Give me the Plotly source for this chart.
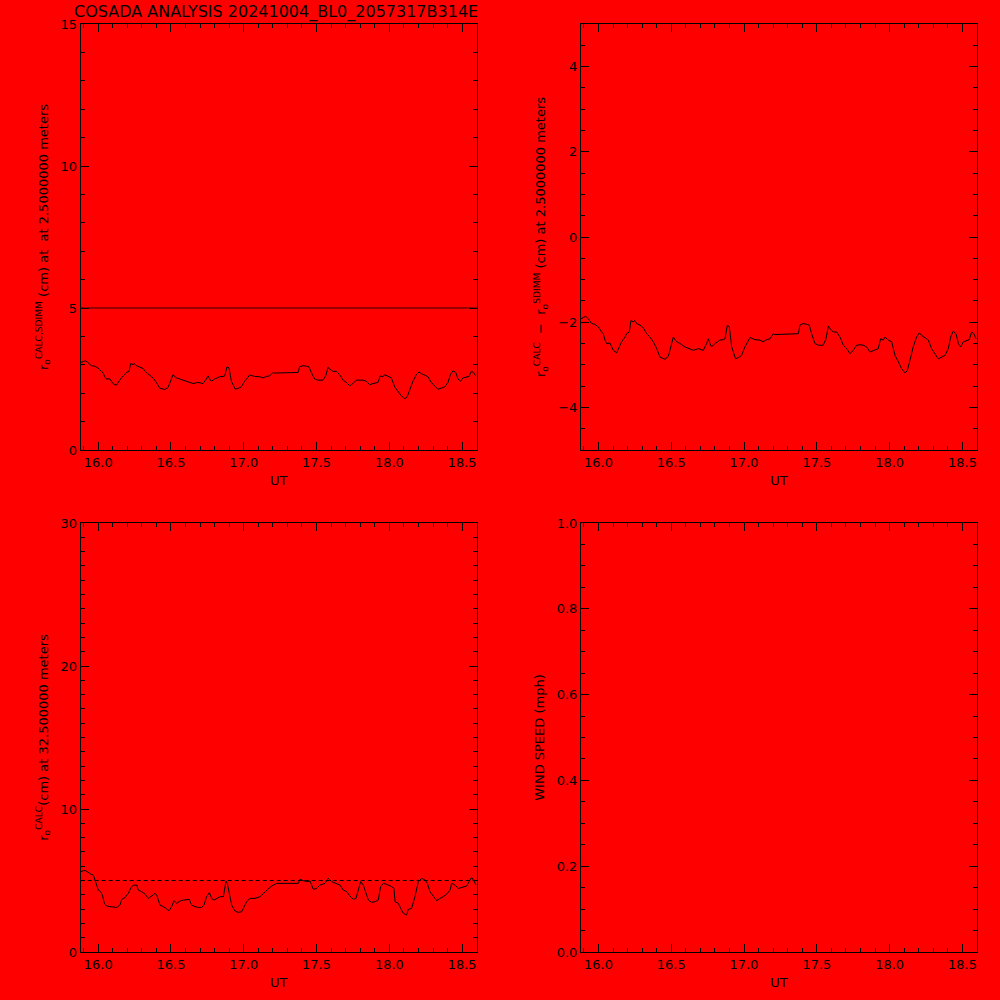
import plotly.graph_objects as go

# ---------------- data ----------------
title_text = "COSADA ANALYSIS 20241004_BL0_2057317B314E"

# r0 CALC at 2.5 m (cm) vs UT
ut_2p5 = [15.880, 15.896, 15.912, 15.930, 15.942, 15.953, 15.976, 15.999, 16.022, 16.033,
          16.045, 16.056, 16.079, 16.091, 16.102, 16.125, 16.148, 16.159, 16.182, 16.194,
          16.212, 16.223, 16.239, 16.251, 16.262, 16.285, 16.308, 16.331, 16.354, 16.377,
          16.400, 16.423, 16.457, 16.480, 16.491, 16.514, 16.537, 16.560, 16.594, 16.629,
          16.652, 16.686, 16.720, 16.743, 16.755, 16.766, 16.777, 16.800, 16.835, 16.858,
          16.869, 16.885, 16.899, 16.915, 16.926, 16.942, 16.961, 16.983, 17.006, 17.041,
          17.075, 17.109, 17.132, 17.155, 17.178, 17.201, 17.212, 17.373, 17.384, 17.407,
          17.430, 17.448, 17.464, 17.487, 17.510, 17.544, 17.563, 17.579, 17.590, 17.613,
          17.636, 17.659, 17.682, 17.705, 17.728, 17.750, 17.773, 17.796, 17.819, 17.842,
          17.865, 17.888, 17.922, 17.938, 17.956, 17.968, 17.991, 18.014, 18.037, 18.060,
          18.082, 18.105, 18.121, 18.140, 18.162, 18.185, 18.204, 18.220, 18.243, 18.266,
          18.288, 18.311, 18.334, 18.357, 18.380, 18.403, 18.419, 18.437, 18.456, 18.472,
          18.488, 18.506, 18.529, 18.547, 18.563, 18.579, 18.593]
r0_calc_2p5 = [3.08, 3.12, 3.14, 3.08, 3.01, 2.97, 2.95, 2.89, 2.77, 2.73,
               2.58, 2.50, 2.51, 2.42, 2.34, 2.28, 2.46, 2.54, 2.65, 2.73,
               2.77, 3.04, 3.01, 3.04, 2.97, 2.93, 2.87, 2.73, 2.65, 2.54,
               2.38, 2.18, 2.13, 2.20, 2.34, 2.65, 2.54, 2.50, 2.42, 2.38,
               2.34, 2.38, 2.34, 2.50, 2.61, 2.50, 2.42, 2.50, 2.58, 2.59,
               2.61, 2.93, 2.89, 2.42, 2.30, 2.14, 2.17, 2.22, 2.42, 2.64,
               2.59, 2.58, 2.54, 2.59, 2.61, 2.73, 2.71, 2.73, 2.93, 2.97,
               2.95, 2.93, 2.73, 2.50, 2.46, 2.46, 2.61, 2.91, 2.85, 2.77,
               2.77, 2.65, 2.46, 2.38, 2.26, 2.34, 2.46, 2.47, 2.46, 2.42,
               2.30, 2.34, 2.38, 2.61, 2.58, 2.65, 2.58, 2.54, 2.22, 2.07,
               1.91, 1.81, 1.86, 2.11, 2.42, 2.65, 2.75, 2.69, 2.64, 2.58,
               2.38, 2.26, 2.14, 2.18, 2.22, 2.38, 2.65, 2.79, 2.73, 2.50,
               2.42, 2.54, 2.56, 2.59, 2.77, 2.73, 2.61]

# r0 SDIMM reference (cm)
r0_sdimm = 5.0

# r0 CALC at 32.5 m (cm) vs UT
ut_32p5 = [15.882, 15.898, 15.914, 15.933, 15.949, 15.967, 15.978, 15.990, 16.001, 16.017,
           16.029, 16.043, 16.059, 16.081, 16.104, 16.127, 16.150, 16.162, 16.184, 16.207,
           16.226, 16.242, 16.265, 16.276, 16.299, 16.322, 16.345, 16.368, 16.391, 16.402,
           16.413, 16.425, 16.448, 16.471, 16.487, 16.505, 16.521, 16.539, 16.562, 16.585,
           16.608, 16.626, 16.642, 16.665, 16.688, 16.711, 16.727, 16.745, 16.764, 16.780,
           16.796, 16.814, 16.837, 16.860, 16.878, 16.887, 16.901, 16.917, 16.940, 16.963,
           16.986, 17.002, 17.020, 17.043, 17.077, 17.112, 17.135, 17.157, 17.180, 17.203,
           17.226, 17.375, 17.386, 17.409, 17.432, 17.455, 17.478, 17.501, 17.524, 17.558,
           17.581, 17.604, 17.638, 17.661, 17.684, 17.707, 17.730, 17.753, 17.771, 17.787,
           17.803, 17.821, 17.840, 17.856, 17.879, 17.902, 17.924, 17.940, 17.959, 17.982,
           18.016, 18.032, 18.039, 18.062, 18.078, 18.096, 18.119, 18.130, 18.153, 18.176,
           18.199, 18.222, 18.245, 18.261, 18.279, 18.302, 18.325, 18.348, 18.371, 18.394,
           18.417, 18.428, 18.451, 18.474, 18.497, 18.531, 18.554, 18.565, 18.581, 18.595]
r0_calc_32p5 = [5.62, 5.69, 5.69, 5.55, 5.45, 5.38, 5.03, 4.68, 4.33, 4.22,
                3.98, 3.40, 3.21, 3.17, 3.12, 3.12, 3.28, 3.68, 3.80, 4.10,
                4.50, 4.68, 4.68, 4.33, 4.22, 4.05, 3.75, 3.91, 4.10, 3.98,
                3.63, 3.28, 3.17, 2.98, 2.89, 3.17, 3.59, 3.40, 3.56, 3.63,
                3.68, 3.68, 3.28, 3.17, 3.12, 3.12, 3.28, 3.87, 4.15, 3.75,
                3.63, 3.75, 3.87, 3.87, 4.96, 4.80, 4.10, 3.28, 2.86, 2.77,
                2.82, 3.17, 3.52, 3.75, 3.75, 3.87, 4.10, 4.33, 4.52, 4.68,
                4.80, 4.80, 5.08, 4.99, 4.92, 4.96, 4.38, 4.45, 4.68, 4.80,
                5.15, 4.92, 4.80, 4.68, 4.33, 4.22, 3.91, 3.68, 3.75, 4.33,
                4.92, 4.68, 4.10, 3.63, 3.47, 3.52, 3.63, 4.57, 4.80, 4.73,
                4.57, 4.45, 3.52, 3.40, 3.05, 2.70, 2.59, 2.98, 3.05, 3.87,
                4.92, 5.15, 5.03, 4.80, 4.22, 3.87, 3.59, 3.75, 3.87, 4.05,
                4.33, 4.80, 4.68, 4.45, 4.50, 4.61, 5.03, 5.22, 4.99, 4.68]

r0_diff_2p5 = [c - r0_sdimm for c in r0_calc_2p5]

x_range = [15.88, 18.60]
x_tick_labels = ["16.0", "16.5", "17.0", "17.5", "18.0", "18.5"]
x_tick_vals = [16.0, 16.5, 17.0, 17.5, 18.0, 18.5]

ytitle_tl = "r<sub>o</sub><sup>CALC,SDIMM</sup> (cm) at  at 2.5000000 meters"
ytitle_tr = "r<sub>o</sub><sup>CALC</sup>  \u2212  r<sub>o</sub><sup>SDIMM</sup> (cm) at 2.5000000 meters"
ytitle_bl = "r<sub>o</sub><sup>CALC</sup>(cm) at 32.500000 meters"
ytitle_br = "WIND SPEED (mph)"

# ---------------- figure ----------------
FONT = "DejaVu Sans"
BG = "#ff0000"

fig = go.Figure()

fig.add_trace(go.Scatter(x=ut_2p5, y=r0_calc_2p5, mode="lines",
                         line=dict(color="black", width=1), xaxis="x", yaxis="y",
                         showlegend=False))
fig.add_trace(go.Scatter(x=ut_2p5, y=r0_diff_2p5, mode="lines",
                         line=dict(color="black", width=1), xaxis="x2", yaxis="y2",
                         showlegend=False))
fig.add_trace(go.Scatter(x=ut_32p5, y=r0_calc_32p5, mode="lines",
                         line=dict(color="black", width=1), xaxis="x3", yaxis="y3",
                         showlegend=False))
fig.add_trace(go.Scatter(x=[], y=[], mode="lines", xaxis="x4", yaxis="y4",
                         showlegend=False))

# reference lines
fig.add_shape(type="line", xref="x domain", x0=0, x1=1, yref="y", y0=r0_sdimm, y1=r0_sdimm,
              line=dict(color="#300000", width=1))
fig.add_shape(type="line", xref="x3 domain", x0=0, x1=1, yref="y3", y0=r0_sdimm, y1=r0_sdimm,
              line=dict(color="black", width=1, dash="4px,3px"))

left_dom = [0.0807, 0.4767]
right_dom = [0.581, 0.977]
top_dom = [0.550, 0.976]
bot_dom = [0.048, 0.477]


def xax(domain, anchor):
    return dict(domain=domain, anchor=anchor, range=x_range, automargin=False,
                tickmode="array", tickvals=x_tick_vals, ticktext=x_tick_labels,
                ticks="inside", ticklen=8, tickwidth=1, tickcolor="black",
                minor=dict(dtick=0.1, tick0=16.0, ticks="inside", ticklen=4,
                           tickcolor="black", tickwidth=1),
                showline=True, linecolor="black", linewidth=1, mirror="allticks",
                showgrid=False, zeroline=False,
                tickfont=dict(family=FONT, size=13, color="black"),
                title=dict(text="UT", font=dict(family=FONT, size=13, color="black"),
                           standoff=7))


def yax(domain, anchor, rng, dtick, minor, title, fmt=None, standoff=9):
    d = dict(domain=domain, anchor=anchor, range=rng, dtick=dtick, tick0=0,
             automargin=False,
             ticks="inside", ticklen=8, tickwidth=1, tickcolor="black",
             minor=dict(dtick=minor, tick0=0, ticks="inside", ticklen=4,
                        tickcolor="black", tickwidth=1),
             showline=True, linecolor="black", linewidth=1, mirror="allticks",
             showgrid=False, zeroline=False,
             tickfont=dict(family=FONT, size=13, color="black"),
             title=dict(text=title, font=dict(family=FONT, size=13, color="black"),
                        standoff=standoff))
    if fmt:
        d["tickformat"] = fmt
    return d


fig.update_layout(
    width=1000, height=1000,
    margin=dict(l=0, r=0, t=0, b=0, autoexpand=False),
    paper_bgcolor=BG, plot_bgcolor=BG,
    font=dict(family=FONT, color="black"),
    xaxis=xax(left_dom, "y"),
    yaxis=yax(top_dom, "x", [0, 15], 5, 1, ytitle_tl),
    xaxis2=xax(right_dom, "y2"),
    yaxis2=yax(top_dom, "x2", [-5, 5], 2, 0.5, ytitle_tr),
    xaxis3=xax(left_dom, "y3"),
    yaxis3=yax(bot_dom, "x3", [0, 30], 10, 1, ytitle_bl),
    xaxis4=xax(right_dom, "y4"),
    yaxis4=yax(bot_dom, "x4", [0, 1], 0.2, 0.05, ytitle_br, fmt=".1f"),
    annotations=[dict(text=title_text, xref="paper", yref="paper", x=0.072, y=0.988,
                      xanchor="left", yanchor="middle", showarrow=False,
                      font=dict(family=FONT, size=16, color="black"))],
)

fig.write_html("out.html", config={"displayModeBar": False},
               post_script="document.body.style.margin='0';document.body.style.padding='0';"
                           "document.body.style.background='#ff0000';")
